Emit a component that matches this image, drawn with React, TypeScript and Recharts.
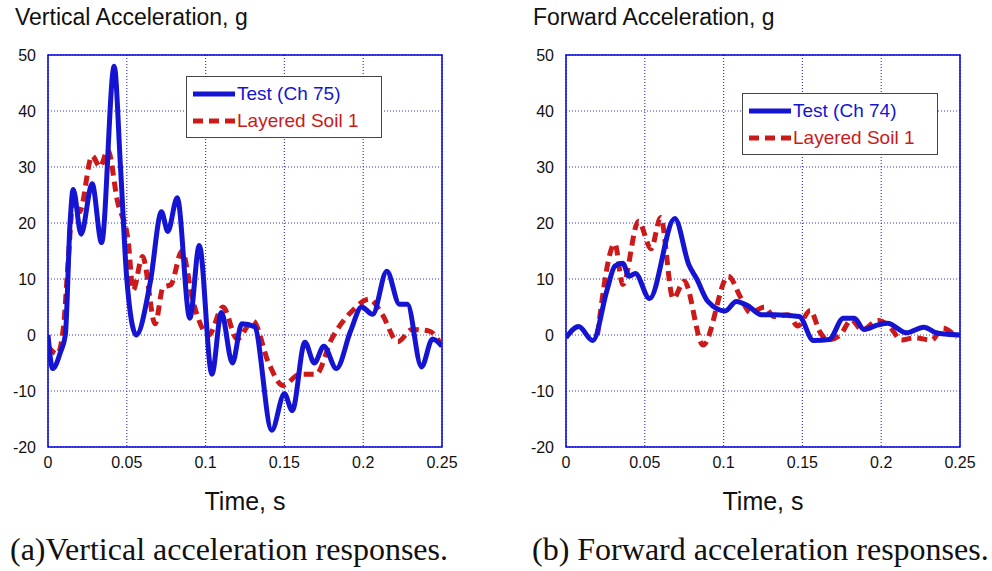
import React from 'react'
import {
  LineChart,
  Line,
  XAxis,
  YAxis,
  CartesianGrid,
  Legend,
  ReferenceArea,
} from 'recharts'

// time ticks and acceleration ticks shared by both panels
const timeTicks = [0, 0.05, 0.1, 0.15, 0.2, 0.25]
const accelTicks = [-20, -10, 0, 10, 20, 30, 40, 50]

// (a) vertical acceleration, test channel 75
const vertTestT = [0, 0.003, 0.008, 0.011, 0.014, 0.016, 0.021, 0.028, 0.034, 0.042, 0.046, 0.05, 0.056, 0.065, 0.072, 0.076, 0.082, 0.09, 0.096, 0.104, 0.11, 0.117, 0.123, 0.131, 0.142, 0.15, 0.155, 0.163, 0.169, 0.175, 0.183, 0.192, 0.199, 0.206, 0.215, 0.223, 0.228, 0.237, 0.244, 0.25]
const vertTestG = [0, -6, -3, 0, 20, 26, 18, 27, 16.5, 48, 30, 10, 0, 9.6, 22, 18.5, 24.5, 3, 16, -7, 4, -5, 2, 1.5, -17, -10.5, -13.5, -1.3, -5, -2, -6, 0.7, 5, 3.7, 11.4, 5.5, 5.5, -5.7, -0.7, -2]

// (a) vertical acceleration, layered soil 1
const vertSoilT = [0, 0.006, 0.01, 0.013, 0.016, 0.02, 0.028, 0.033, 0.038, 0.044, 0.051, 0.054, 0.06, 0.068, 0.073, 0.078, 0.085, 0.092, 0.102, 0.111, 0.12, 0.13, 0.14, 0.149, 0.16, 0.17, 0.18, 0.193, 0.204, 0.212, 0.222, 0.231, 0.242, 0.25]
const vertSoilG = [-2, -3.4, 2, 14, 24, 22, 32, 30, 33, 24, 16.5, 8, 14, 2, 8.5, 9, 15, 6, 0, 5, -0.7, 2.5, -5, -9, -7, -7, -0.7, 4.3, 6.4, 3.7, -1.2, 1, 0.7, -2]

// (b) forward acceleration, test channel 74
const fwdTestT = [0, 0.008, 0.017, 0.026, 0.031, 0.036, 0.04, 0.044, 0.053, 0.069, 0.078, 0.083, 0.09, 0.101, 0.108, 0.115, 0.124, 0.132, 0.148, 0.157, 0.167, 0.176, 0.183, 0.189, 0.198, 0.204, 0.216, 0.227, 0.236, 0.25]
const fwdTestG = [-0.5, 1.5, -1, 8, 12.3, 12.8, 10.5, 11, 6.5, 20.8, 12.5, 10, 6, 4.3, 6, 5.3, 3.6, 3.6, 3.3, -1, -0.8, 3, 3, 1, 1.8, 2.1, 0.4, 1.4, 0.3, 0]

// (b) forward acceleration, layered soil 1
const fwdSoilT = [0.02, 0.031, 0.036, 0.046, 0.054, 0.06, 0.068, 0.075, 0.087, 0.103, 0.111, 0.117, 0.126, 0.132, 0.141, 0.147, 0.155, 0.161, 0.166, 0.174, 0.181, 0.188, 0.198, 0.205, 0.213, 0.221, 0.232, 0.239, 0.248]
const fwdSoilG = [0, 16.3, 9, 20.3, 15.4, 21, 6.5, 9.6, -1.8, 10.5, 6.6, 4, 5, 3.3, 3.6, 1.6, 4.4, 0.6, -0.9, 0, 2.7, 0.9, 2.6, 1.6, -0.9, -0.5, -0.9, 1.2, -0.5]

const BLUE = '#1414d2'
const RED = '#cc1a1a'
const GRID = '#3b3bcc'

const zip = (ts: number[], gs: number[]) => ts.map((t, i) => ({ t, g: gs[i] }))

type PanelProps = {
  left: number
  title: string
  caption: string
  captionLeft: number
  testName: string
  test: { t: number; g: number }[]
  soil: { t: number; g: number }[]
  legendLeft: number
  legendTop: number
}

function LegendBox({ testName }: { testName: string }) {
  const row: React.CSSProperties = { display: 'flex', alignItems: 'center', height: 27 }
  return (
    <div
      style={{
        border: '1.5px solid #444',
        background: '#fff',
        padding: '3px 10px 3px 4px',
        width: 180,
        fontFamily: 'Liberation Sans, Arial, sans-serif',
        fontSize: 19,
      }}
    >
      <div style={row}>
        <svg width={46} height={10}>
          <line x1={2} y1={5} x2={44} y2={5} stroke={BLUE} strokeWidth={5} />
        </svg>
        <span style={{ color: BLUE }}>{testName}</span>
      </div>
      <div style={row}>
        <svg width={46} height={10}>
          <line x1={2} y1={5} x2={44} y2={5} stroke={RED} strokeWidth={5} strokeDasharray="10 6" />
        </svg>
        <span style={{ color: RED }}>Layered Soil 1</span>
      </div>
    </div>
  )
}

function Panel(p: PanelProps) {
  return (
    <div style={{ position: 'absolute', left: p.left, top: 0, width: 474, height: 571 }}>
      <div
        style={{
          position: 'absolute',
          left: 15,
          top: 4,
          fontSize: 23,
          color: '#111',
          fontFamily: 'Liberation Sans, Arial, sans-serif',
          whiteSpace: 'nowrap',
        }}
      >
        {p.title}
      </div>
      <div style={{ position: 'absolute', left: 0, top: 0 }}>
        <LineChart
          width={460}
          height={530}
          margin={{ top: 55, right: 18, left: 0, bottom: 50 }}
          style={{ fontFamily: 'Liberation Sans, Arial, sans-serif' }}
        >
          <CartesianGrid stroke={GRID} strokeDasharray="1 2" strokeWidth={1.2} />
          <XAxis
            type="number"
            dataKey="t"
            domain={[0, 0.25]}
            ticks={timeTicks}
            allowDataOverflow
            axisLine={false}
            tickLine={false}
            height={33}
            tick={{ fill: '#111', fontSize: 16 }}
            tickMargin={4}
            label={{ value: 'Time, s', position: 'bottom', offset: 12, fill: '#111', fontSize: 25 }}
          />
          <YAxis
            type="number"
            domain={[-20, 50]}
            ticks={accelTicks}
            allowDataOverflow
            axisLine={false}
            tickLine={false}
            width={48}
            tick={{ fill: '#111', fontSize: 16 }}
            tickMargin={6}
          />
          <ReferenceArea
            x1={0}
            x2={0.25}
            y1={-20}
            y2={50}
            fill="none"
            stroke="#0000e0"
            strokeWidth={1.5}
            ifOverflow="visible"
          />
          <Line
            data={p.soil}
            dataKey="g"
            type="monotone"
            stroke={RED}
            strokeWidth={5}
            strokeDasharray="10 6"
            dot={false}
            isAnimationActive={false}
          />
          <Line
            data={p.test}
            dataKey="g"
            type="monotone"
            stroke={BLUE}
            strokeWidth={5}
            dot={false}
            isAnimationActive={false}
          />
          <Legend
            layout="horizontal"
            verticalAlign="middle"
            align="center"
            wrapperStyle={{ left: p.legendLeft, top: p.legendTop, width: 'auto' }}
            content={() => <LegendBox testName={p.testName} />}
          />
        </LineChart>
      </div>
      <div
        style={{
          position: 'absolute',
          left: p.captionLeft,
          top: 531,
          fontSize: 32,
          color: '#111',
          fontFamily: 'Liberation Serif, Times New Roman, serif',
          whiteSpace: 'nowrap',
        }}
      >
        {p.caption}
      </div>
    </div>
  )
}

export default function App() {
  return (
    <div
      style={{
        position: 'absolute',
        left: 0,
        top: 0,
        width: 992,
        height: 571,
        background: '#fff',
        overflow: 'hidden',
      }}
    >
      <Panel
        left={0}
        title="Vertical Acceleration, g"
        caption="(a)Vertical acceleration responses."
        captionLeft={10}
        testName="Test (Ch 75)"
        test={zip(vertTestT, vertTestG)}
        soil={zip(vertSoilT, vertSoilG)}
        legendLeft={186}
        legendTop={76}
      />
      <Panel
        left={518}
        title="Forward Acceleration, g"
        caption="(b) Forward acceleration responses."
        captionLeft={14}
        testName="Test (Ch 74)"
        test={zip(fwdTestT, fwdTestG)}
        soil={zip(fwdSoilT, fwdSoilG)}
        legendLeft={224}
        legendTop={93}
      />
    </div>
  )
}
